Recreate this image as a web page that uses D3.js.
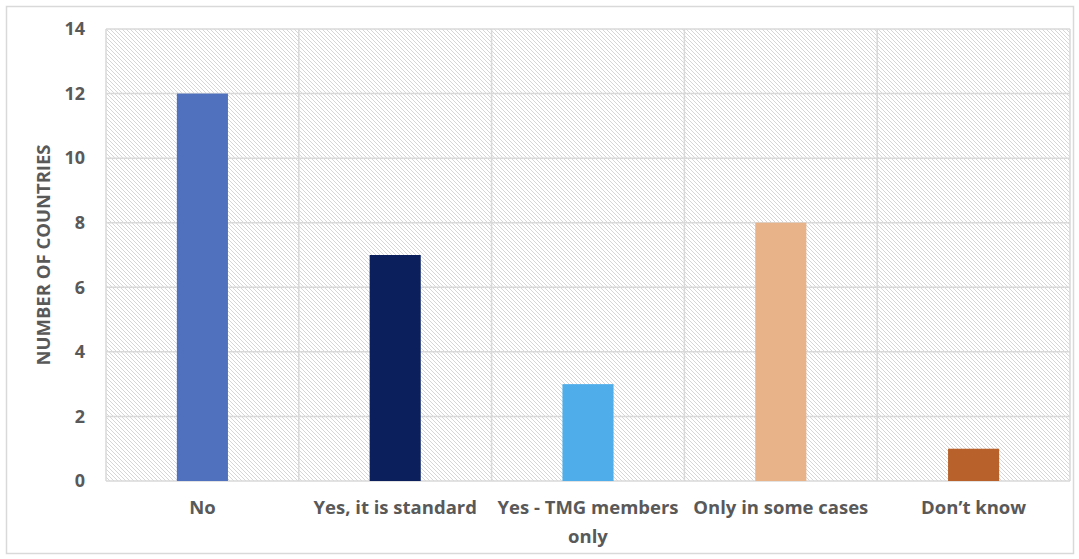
<!DOCTYPE html>
<html>
<head>
<meta charset="utf-8">
<script src="https://cdn.jsdelivr.net/npm/d3@7"></script>
<style>
  body { margin: 0; background: #fff; }
  svg text { font-family: "Open Sans", Lato, sans-serif; font-weight: bold; fill: #595959; }
</style>
</head>
<body>
<svg id="chart" width="1079" height="559"></svg>
<script>
const categories = ["No", "Yes, it is standard", "Yes - TMG members only", "Only in some cases", "Don\u2019t know"];
const values = [12, 7, 3, 8, 1];
const colors = ["#4f71be", "#0a1f5c", "#4fadea", "#e9b38a", "#b8612a"];
const yTicks = [0, 2, 4, 6, 8, 10, 12, 14];
// label lines as wrapped in the picture
const labelLines = [["No"], ["Yes, it is standard"], ["Yes - TMG members", "only"], ["Only in some cases"], ["Don\u2019t know"]];

const width = 1079;
const height = 559;
const margin = { top: 29, right: 9, bottom: 78, left: 106 };
const innerW = width - margin.left - margin.right;
const innerH = height - margin.top - margin.bottom;

const svg = d3.select('#chart');

// outer frame
svg.append('rect')
  .attr('x', 6.5).attr('y', 6.5)
  .attr('width', width - 12).attr('height', height - 12)
  .attr('fill', '#fff')
  .attr('stroke', '#d9d9d9')
  .attr('stroke-width', 1.5);

// hatch pattern
const defs = svg.append('defs');
const pat = defs.append('pattern')
  .attr('id', 'hatch')
  .attr('patternUnits', 'userSpaceOnUse')
  .attr('width', 4).attr('height', 4);
pat.append('rect').attr('width', 4).attr('height', 4).attr('fill', '#fff');
pat.append('path')
  .attr('d', 'M-1,-1 L5,5 M-1,3 L1,5 M3,-1 L5,1')
  .attr('stroke', '#d6d6d6')
  .attr('stroke-width', 1);

const g = svg.append('g')
  .attr('transform', `translate(${margin.left}, ${margin.top})`);

const x = d3.scaleBand().domain(categories).range([0, innerW]).padding(0);
const y = d3.scaleLinear().domain([0, 14]).range([innerH, 0]);

g.append('rect')
  .attr('width', innerW).attr('height', innerH)
  .attr('fill', 'url(#hatch)');

// horizontal grid
g.selectAll('.hgrid')
  .data(yTicks)
  .join('line')
  .attr('class', 'hgrid')
  .attr('x1', 0).attr('x2', innerW)
  .attr('y1', d => y(d)).attr('y2', d => y(d))
  .attr('stroke', '#d9d9d9')
  .attr('stroke-width', 1.5);

// vertical grid at category boundaries
const bounds = categories.map(c => x(c)).concat([innerW]);
g.selectAll('.vgrid')
  .data(bounds)
  .join('line')
  .attr('class', 'vgrid')
  .attr('x1', d => d).attr('x2', d => d)
  .attr('y1', 0).attr('y2', innerH)
  .attr('stroke', '#d9d9d9')
  .attr('stroke-width', 1.5);

// bars
const barW = x.bandwidth() * 0.265;
g.selectAll('.bar')
  .data(values)
  .join('rect')
  .attr('class', 'bar')
  .attr('x', (d, i) => x(categories[i]) + x.bandwidth() / 2 - barW / 2)
  .attr('y', d => y(d))
  .attr('width', barW)
  .attr('height', d => y(0) - y(d))
  .attr('fill', (d, i) => colors[i]);

// y axis labels
const yAxis = g.append('g')
  .call(d3.axisLeft(y).tickValues(yTicks).tickSize(0).tickPadding(21));
yAxis.select('.domain').remove();
yAxis.selectAll('text')
  .attr('font-size', 18)
  .style('font-family', '"Open Sans", sans-serif')
  .style('font-weight', 'bold')
  .attr('fill', '#595959');

// x labels
const xl = g.selectAll('.xlabel')
  .data(categories)
  .join('text')
  .attr('class', 'xlabel')
  .attr('text-anchor', 'middle')
  .attr('font-size', 18.5)
  .attr('transform', d => `translate(${x(d) + x.bandwidth() / 2}, ${innerH + 33})`);
xl.selectAll('tspan')
  .data((d, i) => labelLines[i])
  .join('tspan')
  .attr('x', 0)
  .attr('dy', (d, i) => i === 0 ? 0 : 29)
  .text(d => d);

// y title
svg.append('text')
  .attr('transform', `translate(50, ${margin.top + innerH / 2}) rotate(-90)`)
  .attr('text-anchor', 'middle')
  .attr('font-size', 18.5)
  .text('NUMBER OF COUNTRIES');
</script>
</body>
</html>
